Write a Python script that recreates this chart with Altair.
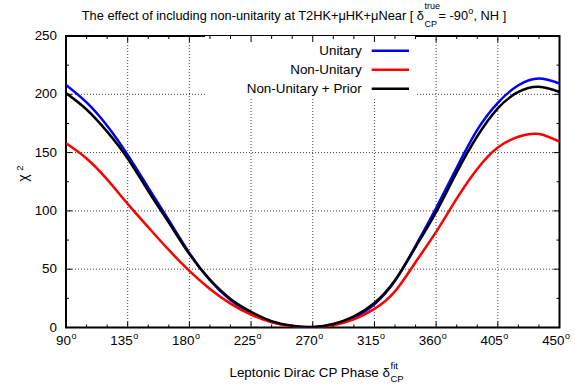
import altair as alt
import pandas as pd

# ---------------- data ----------------
phase = [90, 105, 120, 135, 150, 165, 180, 195, 210, 225, 240, 255, 270,
         285, 300, 315, 330, 345, 360, 375, 390, 405, 420, 435, 450]
unitary = [208, 193, 173, 148, 120, 92, 64, 40.5, 23.5, 12, 4.8, 1.2, 0,
           2.5, 8.5, 20, 40, 70, 102.5, 137, 169.5, 192.7, 207.8, 213.6, 209.3]
non_unitary = [158, 145, 127, 106, 86, 66.5, 48.5, 33, 20.5, 11, 4.5, 1, 0,
               2, 7, 16, 31, 56, 82, 110.5, 136, 154.4, 163.6, 166, 159.3]
non_unitary_prior = [201, 187, 168, 145, 117, 90, 63, 41, 24.5, 13.5, 5.5, 1.5, 0.5,
                     3, 9.5, 21, 40.5, 69, 99, 133, 164, 188, 202, 206.5, 202]

series_names = ["Unitary", "Non-Unitary", "Non-Unitary + Prior"]
series_values = [unitary, non_unitary, non_unitary_prior]
series_colors = ["#0000ff", "#ff0000", "#000000"]

x_major = [90, 135, 180, 225, 270, 315, 360, 405, 450]
x_minor = [105, 120, 150, 165, 195, 210, 240, 255, 285, 300, 330, 345, 375, 390, 420, 435]
y_major = [0, 50, 100, 150, 200, 250]
y_minor = [25, 75, 125, 175, 225]

# ---------------- layout ----------------
W, H = 493.5, 291.5
FONT = "Liberation Sans"
xs = alt.Scale(domain=[90, 450], nice=False, zero=False)
ys = alt.Scale(domain=[0, 250], nice=False, zero=False)


def vals(v):
    return pd.DataFrame({"v": v})


def label(txt, x, y, size, align="left", baseline="alphabetic", angle=0):
    return alt.Chart(pd.DataFrame({"t": [txt]})).mark_text(
        align=align, baseline=baseline, fontSize=size, font=FONT, color="black", angle=angle
    ).encode(text="t:N", x=alt.value(x), y=alt.value(y))


layers = []

# grid
layers.append(alt.Chart(vals(x_major[1:-1])).mark_rule(
    strokeDash=[1, 2], color="#444", strokeWidth=1).encode(
    x=alt.X("v:Q", scale=xs, axis=None), y=alt.value(0), y2=alt.value(H)))
layers.append(alt.Chart(vals(y_major[1:-1])).mark_rule(
    strokeDash=[1, 2], color="#444", strokeWidth=1).encode(
    y=alt.Y("v:Q", scale=ys, axis=None), x=alt.value(0), x2=alt.value(W)))

# key background
layers.append(alt.Chart(vals([0])).mark_rect(color="white").encode(
    x=alt.value(139), x2=alt.value(350), y=alt.value(0), y2=alt.value(63)))

# curves
for name, values, col in zip(series_names, series_values, series_colors):
    df = pd.DataFrame({"phase": phase, "chi2": values, "series": name})
    layers.append(alt.Chart(df).mark_line(
        strokeWidth=2.5, interpolate="natural", clip=True, color=col).encode(
        x=alt.X("phase:Q", scale=xs, axis=None),
        y=alt.Y("chi2:Q", scale=ys, axis=None)))

# key
for i, (name, col) in enumerate(zip(series_names, series_colors)):
    yy = 14.7 + 19 * i
    layers.append(label(name, 295.7, yy, 13.4, align="right", baseline="middle"))
    layers.append(alt.Chart(vals([0])).mark_rule(color=col, strokeWidth=2.5).encode(
        x=alt.value(305.7), x2=alt.value(343), y=alt.value(yy)))

# inward ticks on all four sides
for tv, ln in ((x_major, 6), (x_minor, 3)):
    layers.append(alt.Chart(vals(tv)).mark_rule(color="black", strokeWidth=1).encode(
        x=alt.X("v:Q", scale=xs, axis=None), y=alt.value(H), y2=alt.value(H - ln)))
    layers.append(alt.Chart(vals(tv)).mark_rule(color="black", strokeWidth=1).encode(
        x=alt.X("v:Q", scale=xs, axis=None), y=alt.value(0), y2=alt.value(ln)))
for tv, ln in ((y_major, 6), (y_minor, 3)):
    layers.append(alt.Chart(vals(tv)).mark_rule(color="black", strokeWidth=1).encode(
        y=alt.Y("v:Q", scale=ys, axis=None), x=alt.value(0), x2=alt.value(ln)))
    layers.append(alt.Chart(vals(tv)).mark_rule(color="black", strokeWidth=1).encode(
        y=alt.Y("v:Q", scale=ys, axis=None), x=alt.value(W), x2=alt.value(W - ln)))

# tick labels
layers.append(alt.Chart(vals(x_major)).mark_text(
    align="right", dx=5, baseline="alphabetic", fontSize=13.4, font=FONT, color="black").encode(
    x=alt.X("v:Q", scale=xs, axis=None), y=alt.value(H + 17.5), text=alt.Text("v:Q", format="d")))
layers.append(alt.Chart(vals(x_major)).mark_text(
    text="o", align="left", dx=5.5, baseline="alphabetic", fontSize=9, font=FONT, color="black").encode(
    x=alt.X("v:Q", scale=xs, axis=None), y=alt.value(H + 11.5)))
layers.append(alt.Chart(vals(y_major)).mark_text(
    align="right", baseline="middle", fontSize=13.4, font=FONT, color="black").encode(
    y=alt.Y("v:Q", scale=ys, axis=None), x=alt.value(-9), text=alt.Text("v:Q", format="d")))

# y-axis title
layers.append(label("χ", -42, 142, 14, align="center", baseline="middle", angle=270))
layers.append(label("2", -46, 132, 9.5, align="center", baseline="middle", angle=270))

# x-axis title
layers.append(label("Leptonic Dirac CP Phase δ", 324, H + 49, 13.4, align="right"))
layers.append(label("fit", 324.5, H + 41.5, 9.5))
layers.append(label("CP", 324.5, H + 54.5, 9.5))

# chart title
layers.append(label("The effect of including non-unitarity at T2HK+μHK+μNear [ δ", 358, -16.5, 12.8, align="right"))
layers.append(label("true", 358.5, -27.5, 9))
layers.append(label("CP", 358.5, -9.5, 9))
layers.append(label("= -90", 402, -16.5, 12.8, align="right"))
layers.append(label("o", 402.3, -22.5, 9))
layers.append(label(", NH ]", 407.5, -16.5, 12.8))

chart = alt.layer(*layers).properties(
    width=W, height=H,
    autosize=alt.AutoSizeParams(type="none"),
    padding={"left": 66, "top": 36, "right": 15.5, "bottom": 57.5},
    background="white",
).configure_view(stroke="black", strokeWidth=2)

chart.save("out.html", embed_options={"renderer": "svg", "actions": False})
